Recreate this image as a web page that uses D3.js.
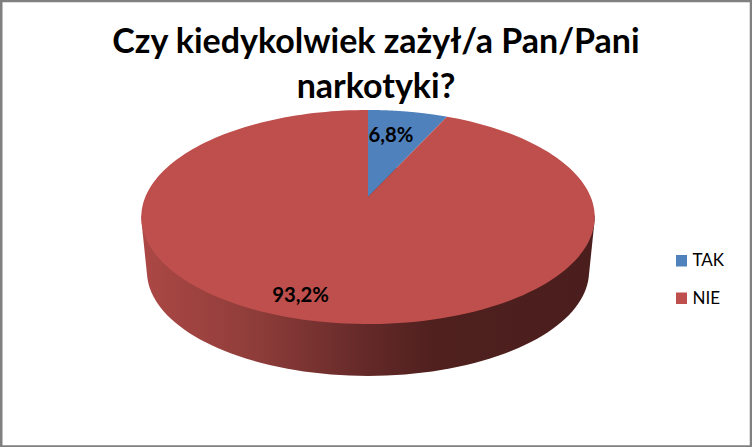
<!DOCTYPE html>
<html>
<head>
<meta charset="utf-8">
<script src="https://cdn.jsdelivr.net/npm/d3@7"></script>
<style>
  html, body { margin: 0; padding: 0; background: #fff; }
  svg { display: block; }
  text { font-family: Lato, "Open Sans", sans-serif; fill: #000; }
</style>
</head>
<body>
<svg id="viz" width="752" height="447"></svg>
<script>
const categories = ["TAK", "NIE"];
const values = [6.8, 93.2];
const titleLines = ["Czy kiedykolwiek zażył/a Pan/Pani", "narkotyki?"];
const colors = ["#4f81bd", "#be4f4c"];

const svg = d3.select("#viz");

// chart frame
svg.append("rect")
  .attr("x", 1.25).attr("y", 1)
  .attr("width", 749.75).attr("height", 445.5)
  .attr("fill", "#fff").attr("stroke", "#808080").attr("stroke-width", 2.5);

// pie is tilted with some perspective, so the centre sits above the middle of the ellipse
const cx = 368, cy = 197;
const a = 222.7, b = 103.3, k = -0.187;

function rim(angle, scale = 1, dy = 0) {
  const u = Math.sin(angle), v = -Math.cos(angle);
  const d = 1 + k * v;
  return [cx + scale * a * u / d, cy + dy + scale * b * v / d];
}

function rimPoints(start, end, scale, dy) {
  return d3.range(0, 181).map((i) => rim(start + (end - start) * i / 180, scale, dy));
}

const slices = d3.pie().sort(null)(values);
const line = d3.line();

// side wall: hull of the lower half of the top rim and the bottom rim
const topRim = rimPoints(0, 2 * Math.PI, 1, 0);
const widest = topRim.reduce((m, p) => (p[0] < m[0] ? p : m));
const wall = d3.polygonHull(
  topRim.filter((p) => p[1] >= widest[1]).concat(rimPoints(0, 2 * Math.PI, 0.975, 55))
);

const grad = svg.append("defs").append("linearGradient")
  .attr("id", "side").attr("gradientUnits", "userSpaceOnUse")
  .attr("x1", 140).attr("x2", 596).attr("y1", 0).attr("y2", 0);
[[0, "#ac4845"], [0.25, "#8f3d3a"], [0.5, "#632928"], [0.65, "#4f201e"], [1, "#4a1e1d"]]
  .forEach((s) => grad.append("stop").attr("offset", s[0]).attr("stop-color", s[1]));

svg.append("path").attr("d", line(wall) + "Z").attr("fill", "url(#side)");

// top face
svg.selectAll(".slice")
  .data(slices)
  .enter()
  .append("path")
  .attr("class", "slice")
  .attr("d", (d) => line([[cx, cy]].concat(rimPoints(d.startAngle, d.endAngle, 1, 0))) + "Z")
  .attr("fill", (d, i) => colors[i]);

// data labels
const labelPos = [[391, 137], [300.5, 296.5]];
svg.selectAll(".label")
  .data(values)
  .enter()
  .append("text")
  .attr("class", "label")
  .attr("x", (d, i) => labelPos[i][0])
  .attr("y", (d, i) => labelPos[i][1])
  .attr("text-anchor", "middle")
  .attr("dominant-baseline", "middle")
  .style("font-size", "20.3px")
  .style("font-weight", 700)
  .text((d) => d3.format(".1f")(d).replace(".", ",") + "%");

// title
svg.selectAll(".title")
  .data(titleLines)
  .enter()
  .append("text")
  .attr("class", "title")
  .attr("x", 376)
  .attr("y", (d, i) => 53 + i * 45)
  .attr("text-anchor", "middle")
  .style("font-size", "34px")
  .style("font-weight", 700)
  .text((d) => d);

// legend
const legend = svg.selectAll(".legend")
  .data(categories)
  .enter()
  .append("g")
  .attr("class", "legend")
  .attr("transform", (d, i) => `translate(676,${255 + i * 37.5})`);
legend.append("rect")
  .attr("width", 11).attr("height", 11.5)
  .attr("fill", (d, i) => colors[i]);
legend.append("text")
  .attr("x", 16.5).attr("y", 11)
  .style("font-size", "17px")
  .text((d) => d);
</script>
</body>
</html>
